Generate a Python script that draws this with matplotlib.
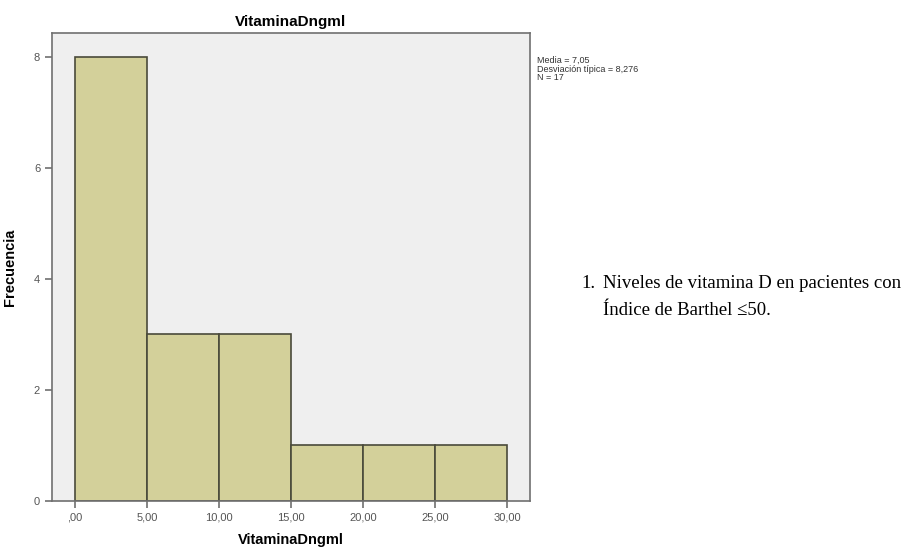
import matplotlib.pyplot as plt
import numpy as np

# ---------------------------------------
# Data
# ---------------------------------------
bin_edges = [0, 5, 10, 15, 20, 25, 30]
frecuencias = [8, 3, 3, 1, 1, 1]
x_ticks = [0, 5, 10, 15, 20, 25, 30]
x_tick_labels = [",00", "5,00", "10,00", "15,00", "20,00", "25,00", "30,00"]
y_ticks = [0, 2, 4, 6, 8]
stats_lines = ["Media = 7,05", "Desviación típica = 8,276", "N = 17"]

plt.rcParams['font.family'] = ['Liberation Sans', 'DejaVu Sans']

fig = plt.figure(figsize=(9.2, 5.55), dpi=100)
ax = fig.add_axes([0.0565, 0.0973, 0.5196, 0.8432])
ax.set_facecolor('#efefef')

lefts = np.array(bin_edges[:-1])
widths = np.diff(bin_edges)
ax.bar(lefts, frecuencias, width=widths, align='edge',
       color='#d3d09a', edgecolor='#4a4a3a', linewidth=1.2, zorder=2)

ax.set_xlim(-1.6, 31.6)
ax.set_ylim(0, 8.43)
ax.set_xticks(x_ticks)
ax.set_xticklabels(x_tick_labels)
ax.set_yticks(y_ticks)

for s in ax.spines.values():
    s.set_color('#707070')
    s.set_linewidth(1.2)

ax.tick_params(axis='both', direction='out', length=5, width=1.2,
               color='#707070', labelsize=8, labelcolor='#555555')

ax.set_title("VitaminaDngml", fontsize=11, fontweight='bold', pad=5)
ax.set_xlabel("VitaminaDngml", fontsize=10.5, fontweight='bold', labelpad=7)
ax.set_ylabel("Frecuencia", fontsize=10.5, fontweight='bold', labelpad=12)

# statistics box to the right of the plot
fig.text(0.584, 0.9, "\n".join(stats_lines), fontsize=6.5, color='#333333',
         va='top', ha='left', linespacing=1.0)

# caption text
serif = ['Liberation Serif', 'DejaVu Serif']
fig.text(0.632, 0.49, "1.", fontsize=13.5, family=serif, va='center')
fig.text(0.655, 0.49, "Niveles de vitamina D en pacientes con", fontsize=13.5,
         family=serif, va='center')
fig.text(0.655, 0.44, "Índice de Barthel \u226450.", fontsize=13.5,
         family=serif + ['DejaVu Sans'], va='center')

fig.savefig("out.png", dpi=100)
